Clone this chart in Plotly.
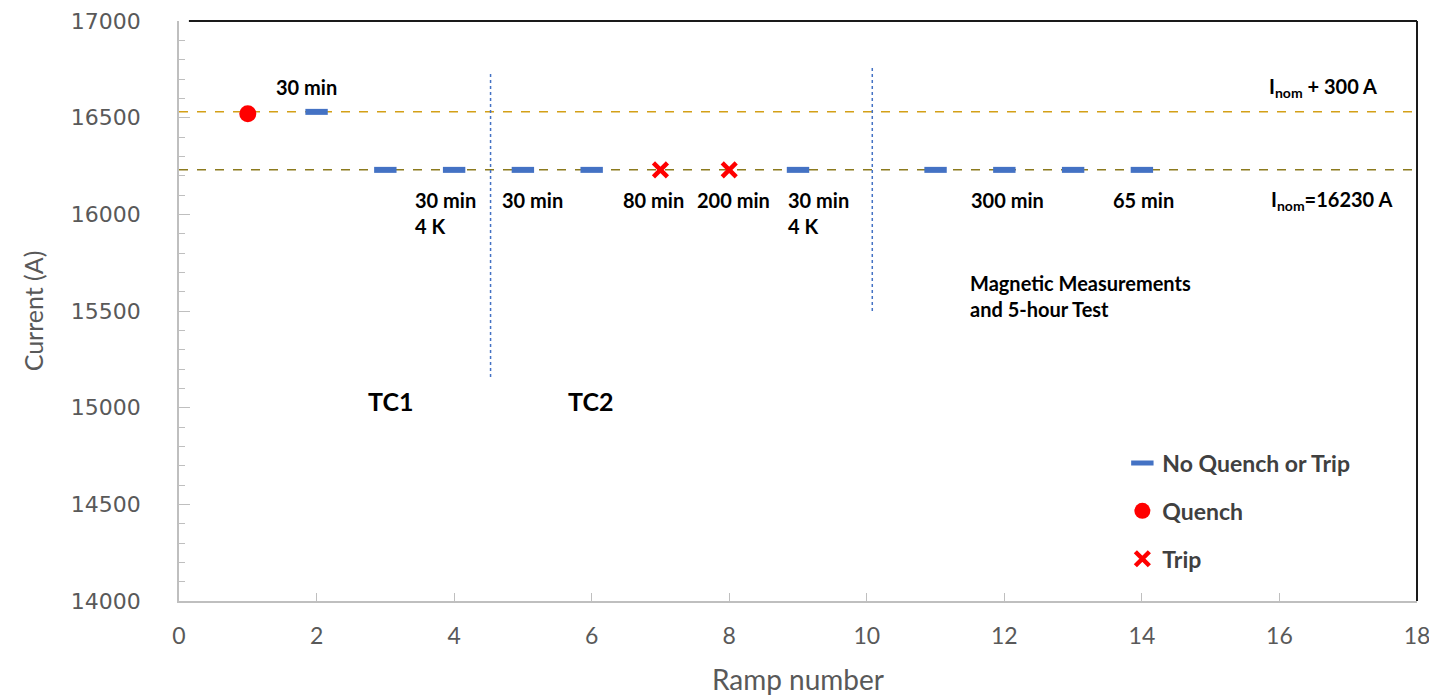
import plotly.graph_objects as go

# Data
noq_ramp = [2, 3, 4, 5, 6, 9, 11, 12, 13, 14]
noq_current = [16530, 16230, 16230, 16230, 16230, 16230, 16230, 16230, 16230, 16230]
quench_ramp = [1]
quench_current = [16520]
trip_ramp = [7, 8]
trip_current = [16230, 16230]

I_nom = 16230
I_plus = 16530

FONT = "Lato"
BLUE = "#4472C4"
RED = "#FF0000"

fig = go.Figure()

fig.add_trace(go.Scatter(
    x=noq_ramp, y=noq_current, mode="markers", name="No Quench or Trip",
    legendgroup="a",
    marker=dict(symbol="line-ew", size=16, line=dict(color=BLUE, width=6), color=BLUE),
))
fig.add_trace(go.Scatter(
    x=quench_ramp, y=quench_current, mode="markers", name="Quench",
    legendgroup="b",
    marker=dict(symbol="circle", size=17, color=RED),
))
fig.add_trace(go.Scatter(
    x=trip_ramp, y=trip_current, mode="markers", name="Trip",
    legendgroup="c",
    marker=dict(symbol="x-thin", size=14, line=dict(color=RED, width=4.5), color=RED),
))

# horizontal reference lines
fig.add_shape(type="line", xref="paper", x0=0, x1=1, yref="y", y0=I_plus, y1=I_plus,
              line=dict(color="#D4A017", width=1.5, dash="dash"), layer="below")
fig.add_shape(type="line", xref="paper", x0=0, x1=1, yref="y", y0=I_nom, y1=I_nom,
              line=dict(color="#8C7A1E", width=1.5, dash="dash"), layer="below")

# vertical dotted separators
fig.add_shape(type="line", x0=4.53, x1=4.53, y0=15158, y1=16741,
              line=dict(color=BLUE, width=1.5, dash="dot"), layer="below")
fig.add_shape(type="line", x0=10.08, x1=10.08, y0=15500, y1=16762,
              line=dict(color=BLUE, width=1.5, dash="dot"), layer="below")

# top and right frame lines
fig.add_shape(type="line", xref="paper", yref="paper", x0=0.008, x1=1, y0=1, y1=1,
              line=dict(color="#1a1a1a", width=2))
fig.add_shape(type="line", xref="paper", yref="paper", x0=1, x1=1, y0=0, y1=1,
              line=dict(color="#1a1a1a", width=2))

ann_font = dict(family=FONT, size=20, color="#000000")
anns = [
    (1.86, 16659, "<b>30 min</b>"),
    (5.14, 16074, "<b>30 min</b>"),
    (6.9, 16074, "<b>80 min</b>"),
    (8.06, 16074, "<b>200 min</b>"),
    (12.05, 16074, "<b>300 min</b>"),
    (14.03, 16074, "<b>65 min</b>"),
    (16.75, 16074, "<b>I<sub>nom</sub>=16230 A</b>"),
    (16.63, 16655, "<b>I<sub>nom</sub> + 300 A</b>"),
]
for x, y, t in anns:
    fig.add_annotation(x=x, y=y, text=t, showarrow=False, font=ann_font, xanchor="center")

# two-line left-aligned labels (y = top of block)
for x in [3.40, 8.82]:
    fig.add_annotation(x=x, y=16146, text="<b>30 min</b><br><b>4 K</b>", showarrow=False,
                       xanchor="left", yanchor="top", align="left", font=ann_font)

fig.add_annotation(x=11.47, y=15717, yanchor="top",
                   text="<b>Magnetic Measurements</b><br><b>and 5-hour Test</b>",
                   showarrow=False, xanchor="left", align="left", font=ann_font)
fig.add_annotation(x=3.07, y=15034, text="<b>TC1</b>", showarrow=False,
                   font=dict(family=FONT, size=25, color="#000000"))
fig.add_annotation(x=5.98, y=15034, text="<b>TC2</b>", showarrow=False,
                   font=dict(family=FONT, size=25, color="#000000"))

fig.update_layout(
    width=1429, height=688,
    margin=dict(l=171, r=20, t=13, b=95),
    plot_bgcolor="white", paper_bgcolor="white",
    showlegend=True,
    legend=dict(x=0.762, y=0.275, xanchor="left", yanchor="top",
                font=dict(family=FONT, size=23, color="#404040", weight="bold"),
                tracegroupgap=15, bgcolor="rgba(0,0,0,0)", itemwidth=30),
    xaxis=dict(range=[0, 18], dtick=2, tick0=0, showgrid=False, zeroline=False,
               automargin=False,
               showline=True, linecolor="#BFBFBF", linewidth=1.5,
               ticks="inside", ticklen=8, tickcolor="#BFBFBF",
               tickfont=dict(family=FONT, size=23, color="#595959"),
               ticklabelstandoff=14,
               title=dict(text="Ramp number", font=dict(family=FONT, size=28, color="#595959"),
                          standoff=22)),
    yaxis=dict(range=[14000, 17000], dtick=500, tick0=14000, showgrid=False, zeroline=False,
               automargin=False, tickformat="d",
               showline=True, linecolor="#BFBFBF", linewidth=1.5,
               ticks="inside", ticklen=11, tickcolor="#BFBFBF",
               minor=dict(dtick=100, ticks="inside", ticklen=6, tickcolor="#BFBFBF"),
               tickfont=dict(family="DejaVu Sans", size=22, color="#595959"),
               ticklabelstandoff=32,
               title=dict(text="Current (A)", font=dict(family=FONT, size=25, color="#595959"),
                          standoff=20)),
)

fig.write_html("out.html")
